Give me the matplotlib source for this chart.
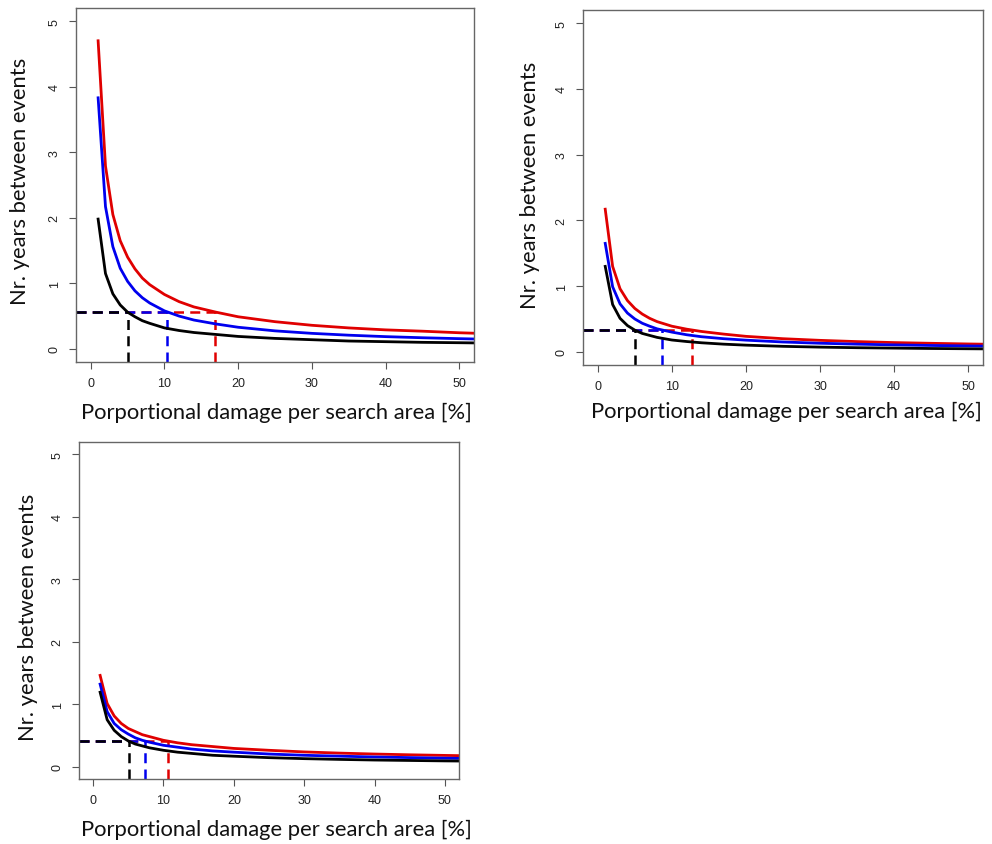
import matplotlib
matplotlib.use("Agg")
import matplotlib.pyplot as plt

# x positions (damage %) at which the curves were read
x_vals = [1, 2, 3, 4, 5, 6, 7, 8, 10, 12, 14, 17, 20, 25, 30, 35, 40, 45, 50, 55]

# panel 1 (top left)
p1_black = [1.98, 1.15, 0.84, 0.67, 0.56, 0.49, 0.43, 0.39, 0.32, 0.28, 0.25, 0.22, 0.19, 0.16, 0.14, 0.12, 0.11, 0.10, 0.094, 0.087]
p1_blue = [3.83, 2.17, 1.56, 1.23, 1.03, 0.885, 0.78, 0.70, 0.58, 0.50, 0.44, 0.38, 0.33, 0.275, 0.237, 0.209, 0.187, 0.170, 0.156, 0.144]
p1_red = [4.70, 2.79, 2.05, 1.65, 1.40, 1.22, 1.08, 0.98, 0.83, 0.72, 0.64, 0.56, 0.49, 0.415, 0.36, 0.32, 0.29, 0.27, 0.246, 0.229]
p1_level = 0.56
p1_cross = [5.0, 10.4, 16.8]   # black, blue, red

# panel 2 (top right)
p2_black = [1.30, 0.72, 0.51, 0.40, 0.33, 0.28, 0.25, 0.22, 0.18, 0.157, 0.138, 0.117, 0.102, 0.084, 0.072, 0.063, 0.057, 0.051, 0.047, 0.043]
p2_blue = [1.65, 0.99, 0.73, 0.59, 0.50, 0.435, 0.39, 0.35, 0.30, 0.26, 0.23, 0.20, 0.178, 0.150, 0.131, 0.117, 0.106, 0.097, 0.090, 0.084]
p2_red = [2.17, 1.30, 0.96, 0.78, 0.66, 0.575, 0.51, 0.46, 0.39, 0.345, 0.31, 0.27, 0.236, 0.20, 0.175, 0.156, 0.141, 0.130, 0.120, 0.112]
p2_level = 0.33
p2_cross = [5.0, 8.7, 12.7]

# panel 3 (bottom left)
p3_black = [1.19, 0.75, 0.58, 0.48, 0.41, 0.36, 0.33, 0.30, 0.26, 0.23, 0.21, 0.18, 0.165, 0.142, 0.126, 0.114, 0.104, 0.097, 0.090, 0.085]
p3_blue = [1.32, 0.88, 0.69, 0.59, 0.52, 0.46, 0.42, 0.39, 0.34, 0.31, 0.28, 0.25, 0.23, 0.20, 0.18, 0.166, 0.153, 0.143, 0.134, 0.127]
p3_red = [1.46, 1.01, 0.81, 0.69, 0.61, 0.56, 0.51, 0.48, 0.42, 0.38, 0.35, 0.32, 0.29, 0.26, 0.234, 0.215, 0.20, 0.188, 0.178, 0.169]
p3_level = 0.41
p3_cross = [5.05, 7.4, 10.6]

x_ticks = [0, 10, 20, 30, 40, 50]
y_ticks = [0, 1, 2, 3, 4, 5]
x_label = "Porportional damage per search area [%]"
y_label = "Nr. years between events"

COLORS = ["#000000", "#0000ee", "#e00000"]
W, H = 992, 845

fig = plt.figure(figsize=(W / 100, H / 100), dpi=100)
fig.patch.set_facecolor("white")


def px_axes(left, top, right, bottom):
    return fig.add_axes([left / W, 1 - bottom / H, (right - left) / W, (bottom - top) / H])


def draw_panel(ax, curves, level, cross):
    ax.set_xlim(-2, 52)
    ax.set_ylim(-0.2, 5.2)
    # dashed guide lines: red first so black ends on top
    for col, xc in reversed(list(zip(COLORS, cross))):
        ax.plot([-2, xc], [level, level], color=col, lw=1.8, ls=(0, (4, 2.5)))
        ax.plot([xc, xc], [-0.2, level], color=col, lw=1.8, ls=(0, (4, 2.5)))
    for col, ys in reversed(list(zip(COLORS, curves))):
        ax.plot(x_vals, ys, color=col, lw=2.0, solid_joinstyle="round")
    ax.set_xticks(x_ticks)
    ax.set_yticks(y_ticks)
    ax.set_yticklabels([str(v) for v in y_ticks], rotation=90, va="center")
    ax.tick_params(direction="out", length=5, width=0.8, colors="#555555",
                   labelcolor="#222222", labelsize=9, pad=6)
    for lab in ax.get_xticklabels() + ax.get_yticklabels():
        lab.set_family(["Liberation Sans", "DejaVu Sans"])
    for sp in ax.spines.values():
        sp.set_edgecolor("#666666")
        sp.set_linewidth(1.0)


ax1 = px_axes(76, 9, 474, 363)
draw_panel(ax1, [p1_black, p1_blue, p1_red], p1_level, p1_cross)
ax2 = px_axes(583, 11, 983, 366)
draw_panel(ax2, [p2_black, p2_blue, p2_red], p2_level, p2_cross)
ax3 = px_axes(79, 443, 459, 780)
draw_panel(ax3, [p3_black, p3_blue, p3_red], p3_level, p3_cross)

lab_font = dict(family=["Lato", "DejaVu Sans"], size=15.8, color="#111111")
for (xx, yy) in [(276, 413), (786, 412), (276, 830)]:
    fig.text(xx / W, 1 - yy / H, x_label, ha="center", va="center", **lab_font)
for (xx, yy) in [(20, 181), (530, 185), (28, 617)]:
    fig.text(xx / W, 1 - yy / H, y_label, ha="center", va="center", rotation=90, **lab_font)

fig.savefig("out.png", dpi=100)
